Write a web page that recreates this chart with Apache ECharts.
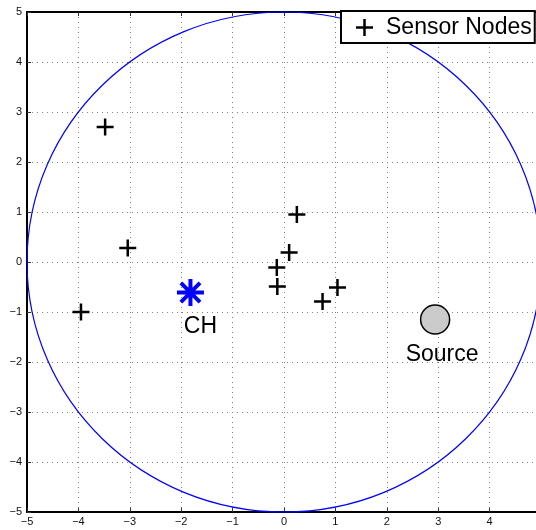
<!DOCTYPE html>
<html>
<head>
<meta charset="utf-8">
<script src="https://cdn.jsdelivr.net/npm/echarts@6/dist/echarts.min.js"></script>
<style>
  html, body { margin: 0; padding: 0; background: #fff; }
  #chart { width: 536px; height: 530px; }
</style>
</head>
<body>
<div id="chart"></div>
<script>
// values
const sensorX = [-3.48, -3.04, -3.95, 0.25, 0.10, -0.14, -0.13, 1.04, 0.75];
const sensorY = [2.70, 0.28, -1.00, 0.95, 0.19, -0.11, -0.49, -0.51, -0.79];
const clusterHead = [-1.82, -0.61];
const sourceNode = [2.94, -1.15];
const coverage = [0, 0, 5]; // centre x, centre y, radius
const axisMin = -5;
const axisMax = 5;

const FONT = "'Liberation Sans', Arial, Helvetica, sans-serif";
const PLUS = "path://M7.25,0H9.75V7.25H17V9.75H9.75V17H7.25V9.75H0V7.25H7.25Z";
const STAR = "path://M0,-10L0,10M-10,0L10,0M-7.07,-7.07L7.07,7.07M-7.07,7.07L7.07,-7.07";

const minus = (v) => String(v).replace("-", "\u2212");

const chart = echarts.init(document.getElementById("chart"));

const gridLine = { show: true, lineStyle: { color: "#808080", width: 1, type: [1, 4] } };
const axisLine = { show: true, onZero: false, lineStyle: { color: "#000", width: 2 } };
const tick = { show: true, inside: true, length: 4, lineStyle: { color: "#333", width: 1 } };

chart.setOption({
  animation: false,
  backgroundColor: "#fff",
  // the axes box runs past the right edge of the picture, as in the reference
  grid: { left: 27, top: 12, right: -5, bottom: 18, outerBoundsMode: "none", containLabel: false },
  xAxis: [
    {
      type: "value", min: axisMin, max: axisMax, interval: 1, position: "bottom",
      axisLine, axisTick: tick, splitLine: gridLine,
      axisLabel: { color: "#111", fontSize: 11, fontFamily: FONT, margin: 4, formatter: minus },
    },
    {
      type: "value", min: axisMin, max: axisMax, interval: 1, position: "top",
      axisLine, axisTick: tick, splitLine: { show: false }, axisLabel: { show: false },
    },
  ],
  yAxis: {
    type: "value", min: axisMin, max: axisMax, interval: 1,
    axisLine, axisTick: tick, splitLine: gridLine,
    axisLabel: { color: "#111", fontSize: 11, fontFamily: FONT, margin: 5, formatter: minus },
  },
  legend: {
    data: [{ name: "Sensor Nodes", icon: PLUS }],
    left: 341, top: 11,
    padding: [5, 3, 4, 15],
    itemWidth: 17, itemHeight: 17,
    backgroundColor: "#fff",
    borderColor: "#000", borderWidth: 2, borderRadius: 0,
    textStyle: { color: "#000", fontSize: 23, fontFamily: FONT, padding: [0, 0, 0, 8] },
    z: 20,
  },
  series: [
    {
      type: "custom",
      data: [coverage],
      silent: true,
      z: 1,
      renderItem(params, api) {
        const c = api.coord([api.value(0), api.value(1)]);
        const r = api.value(2);
        const rx = api.size([r, 0])[0];
        const ry = api.size([0, r])[1];
        return {
          type: "ellipse",
          shape: { cx: c[0], cy: c[1], rx, ry },
          style: { fill: "none", stroke: "#0000ff", lineWidth: 1.2 },
        };
      },
    },
    {
      name: "Sensor Nodes",
      type: "scatter",
      symbol: PLUS,
      symbolSize: 17,
      itemStyle: { color: "#000", opacity: 1 },
      data: sensorX.map((x, i) => [x, sensorY[i]]),
      z: 5,
    },
    {
      name: "CH",
      type: "scatter",
      symbol: STAR,
      symbolSize: 27,
      itemStyle: { color: "none", borderColor: "#0000ff", borderWidth: 4, opacity: 1 },
      label: {
        show: true, position: "bottom", distance: 7, offset: [10, 0],
        formatter: "CH", color: "#000", fontSize: 23, fontFamily: FONT,
      },
      data: [clusterHead],
      z: 6,
    },
    {
      name: "Source",
      type: "scatter",
      symbol: "circle",
      symbolSize: 29,
      itemStyle: { color: "#cbcbcb", borderColor: "#000", borderWidth: 1.5, opacity: 1 },
      label: {
        show: true, position: "bottom", distance: 8, offset: [7, 0],
        formatter: "Source", color: "#000", fontSize: 23, fontFamily: FONT,
      },
      data: [sourceNode],
      z: 6,
    },
  ],
});
</script>
</body>
</html>
